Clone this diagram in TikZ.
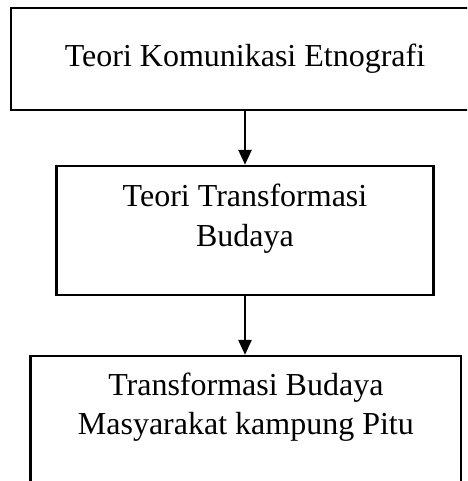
\documentclass[tikz,border=0pt]{standalone}
\usepackage{fontspec}
\setmainfont{Liberation Serif}
\usetikzlibrary{arrows.meta}

\begin{document}
\begin{tikzpicture}[
	box/.style={draw=black,line width=0.85pt,rectangle,inner sep=0pt},
	lbl/.style={align=center,anchor=base,inner sep=0pt,font=\fontsize{12}{14.7}\selectfont},
	flow/.style={-{Triangle[length=5.6pt,width=4.9pt]},draw=black,line width=0.85pt}]
	
	\clip (0,0) rectangle (175.125pt,-180.375pt);
	\useasboundingbox (0,0) rectangle (175.125pt,-180.375pt);

	\node[box,minimum width=175.5pt,minimum height=38.25pt] (komunikasi) at (91.875pt,-22.125pt) {};
	\node[box,minimum width=141.4pt,minimum height=48.4pt] (transformasi) at (91.875pt,-86.4pt) {};
	\node[box,minimum width=161.6pt,minimum height=61.5pt] (pitu) at (92.2pt,-164.25pt) {};

	\node[lbl] (komunikasi text) at (91.875pt,-25pt) {Teori Komunikasi Etnografi};
	\node[lbl] (transformasi text) at (91.875pt,-92.25pt) {Teori Transformasi\\Budaya};
	\node[lbl] (pitu text) at (92.2pt,-163.1pt) {Transformasi Budaya\\Masyarakat kampung Pitu};

	\path[flow] (komunikasi.south) to (transformasi.north);
	\path[flow] (transformasi.south) to (transformasi.south |- pitu.north);

\end{tikzpicture}
\end{document}
